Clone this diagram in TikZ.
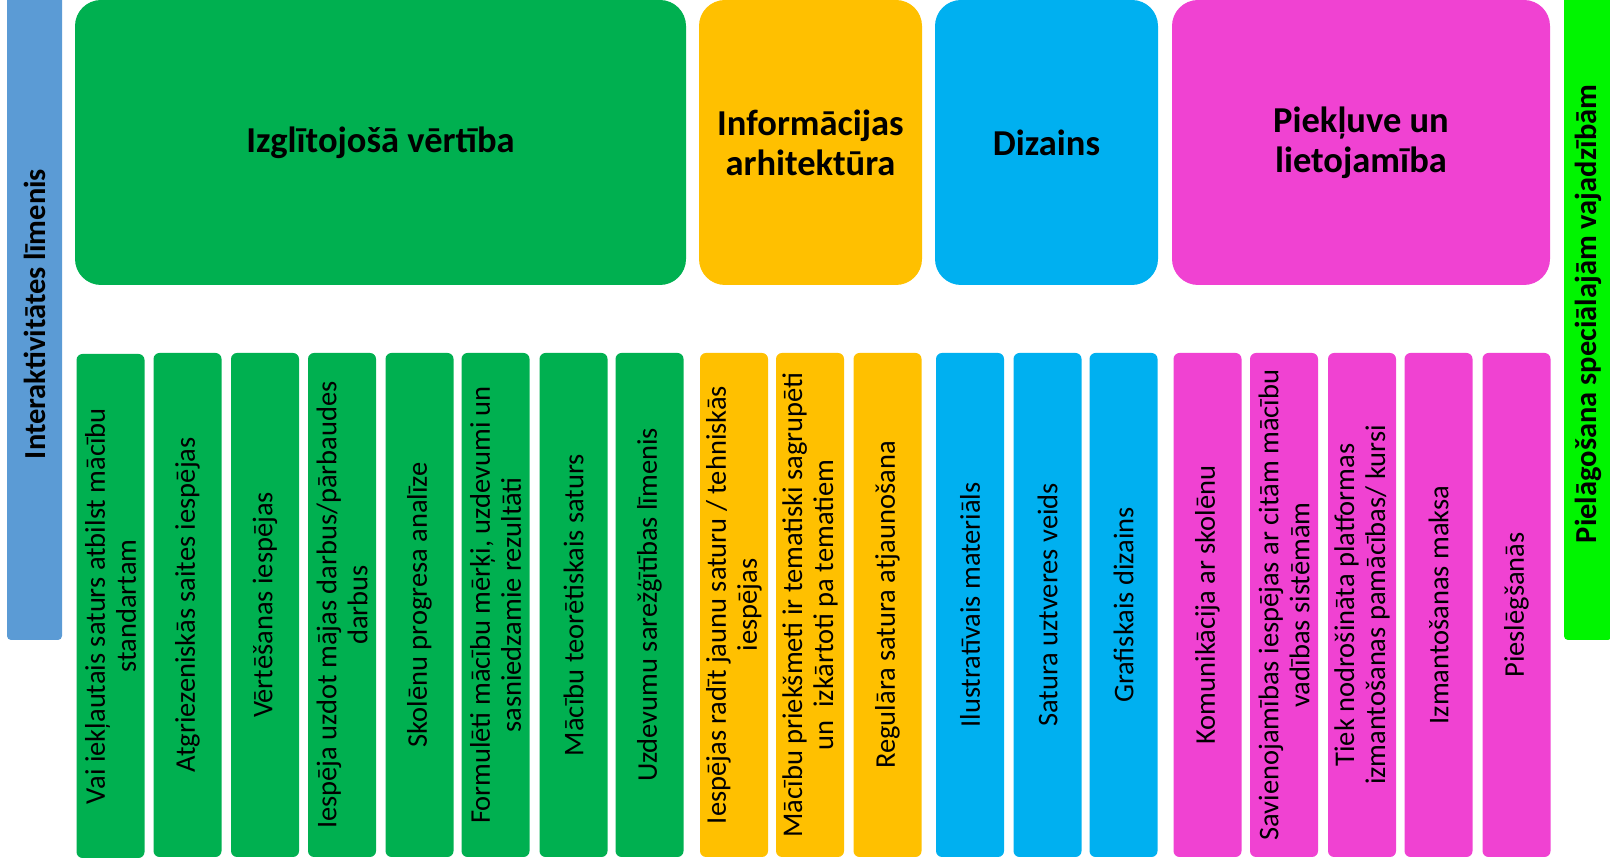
\documentclass[tikz,border=0pt]{standalone}
\usepackage{fontspec}
\setmainfont{Carlito}
\definecolor{cgreen}{HTML}{00B050}
\definecolor{corange}{HTML}{FFC000}
\definecolor{cblue}{HTML}{00B0F0}
\definecolor{cmag}{HTML}{F042D2}
\definecolor{cside}{HTML}{5B9BD5}
\definecolor{clime}{HTML}{00F500}
\tikzset{
  bigbox/.style={rounded corners=26pt, inner sep=0pt, minimum height=285pt, align=center,
    font=\fontsize{36.5}{40}\selectfont\bfseries},
  smallbox/.style={rounded corners=6pt, rotate=90, minimum width=504pt, minimum height=68pt,
    inner sep=0pt, align=center, font=\fontsize{28.5}{31}\selectfont},
  sidebar/.style={rounded corners=4pt, rotate=90, inner sep=0pt, align=center,
    font=\fontsize{30.5}{32}\selectfont\bfseries},
}
\begin{document}
\begin{tikzpicture}[x=1pt,y=1pt]
\useasboundingbox (0,0) rectangle (1610,862);
% side bars
\node[sidebar, fill=cside, minimum width=652pt, minimum height=55pt] (left) at (34.5,548) {Interaktivitātes līmenis};
\node[sidebar, fill=clime, minimum width=652pt, minimum height=48pt] (right) at (1588,548) {Pielāgošana speciālajām vajadzībām};
% big headers
\node[bigbox, fill=cgreen, minimum width=611pt] (hg) at (380.5,719.5) {Izglītojošā vērtība};
\node[bigbox, fill=corange, minimum width=223pt] (ho) at (810.5,719.5) {Informācijas\\arhitektūra};
\node[bigbox, fill=cblue, minimum width=223pt] (hb) at (1046.5,719.5) {Dizains};
\node[bigbox, fill=cmag, minimum width=378pt] (hm) at (1361,719.5) {Piekļuve un\\lietojamība};
% green small
\node[smallbox, fill=cgreen] (g1) at (110.5,256) {Vai iekļautais saturs atbilst mācību\\standartam};
\node[smallbox, fill=cgreen] (g2) at (187.5,257) {Atgriezeniskās saites iespējas};
\node[smallbox, fill=cgreen] (g3) at (265,257) {Vērtēšanas iespējas};
\node[smallbox, fill=cgreen] (g4) at (342,257) {Iespēja uzdot mājas darbus/pārbaudes\\darbus};
\node[smallbox, fill=cgreen] (g5) at (419.5,257) {Skolēnu progresa analīze};
\node[smallbox, fill=cgreen] (g6) at (495.5,257) {Formulēti mācību mērķi, uzdevumi un\\sasniedzamie rezultāti};
\node[smallbox, fill=cgreen] (g7) at (573.5,257) {Mācību teorētiskais saturs};
\node[smallbox, fill=cgreen] (g8) at (649.5,257) {Uzdevumu sarežģītības līmenis};
% orange small
\node[smallbox, fill=corange] (o1) at (734,257) {Iespējas radīt jaunu saturu / tehniskās\\iespējas};
\node[smallbox, fill=corange] (o2) at (810,257) {Mācību priekšmeti ir tematiski sagrupēti\\un\ \ izkārtoti pa tematiem};
\node[smallbox, fill=corange] (o3) at (887.5,257) {Regulāra satura atjaunošana};
% blue small
\node[smallbox, fill=cblue] (b1) at (970,257) {Ilustratīvais materiāls};
\node[smallbox, fill=cblue] (b2) at (1047.5,257) {Satura uztveres veids};
\node[smallbox, fill=cblue] (b3) at (1123.5,257) {Grafiskais dizains};
% magenta small
\node[smallbox, fill=cmag] (m1) at (1207.5,257) {Komunikācija ar skolēnu};
\node[smallbox, fill=cmag] (m2) at (1284,257) {Savienojamības iespējas ar citām mācību\\vadības sistēmām};
\node[smallbox, fill=cmag] (m3) at (1362,257) {Tiek nodrošināta platformas\\izmantošanas pamācības/ kursi};
\node[smallbox, fill=cmag] (m4) at (1438.5,257) {Izmantošanas maksa};
\node[smallbox, fill=cmag] (m5) at (1516.5,257) {Pieslēgšanās};
\end{tikzpicture}
\end{document}
